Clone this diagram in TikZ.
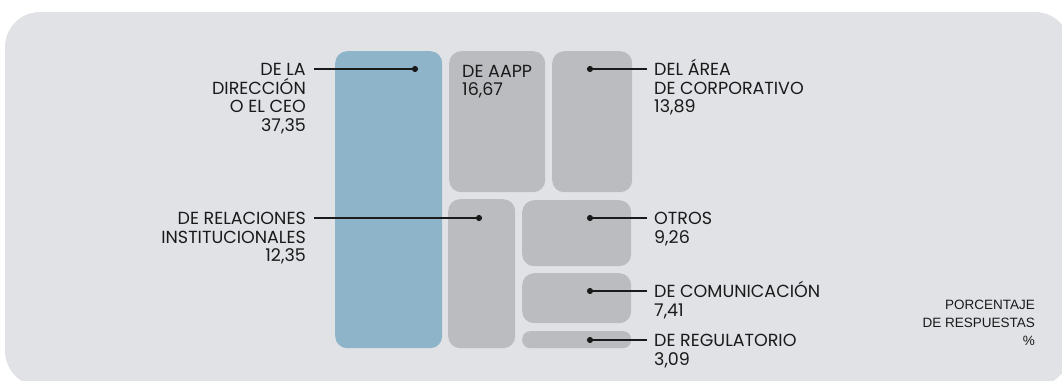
\documentclass[tikz,border=0pt]{standalone}
\usepackage{fontspec}
\setmainfont{Poppins}
\newfontfamily\notefont{Liberation Sans}
\usetikzlibrary{positioning,arrows.meta}
\definecolor{panel}{HTML}{E1E2E6}
\definecolor{tilegray}{HTML}{BBBCC0}
\definecolor{ceoblue}{HTML}{8DB4C9}
\definecolor{ink}{HTML}{1A1A1A}
\tikzset{
  tile/.style={fill=tilegray, rounded corners=12pt, inner sep=0pt, anchor=north west},
  lbl/.style={inner sep=0pt, text=ink, font=\fontsize{17.5}{18.5}\selectfont},
  lead/.style={ink, line width=1.7pt, -{Circle[length=6pt]}, shorten >=-3pt},
}
\begin{document}
\begin{tikzpicture}[x=1pt, y=-1pt]
\useasboundingbox (0,0) rectangle (1062,380);
\fill[panel, rounded corners=35pt] (5,12) rectangle (1070,386);

% tiles
\node[tile, fill=ceoblue, minimum width=107pt, minimum height=297pt] (ceo) at (335,51) {};
\node[tile, minimum width=96pt, minimum height=141pt] (aapp) at (449,51) {};
\node[tile, minimum width=80pt, minimum height=141pt] (corp) at (552,51) {};
\node[tile, minimum width=67pt, minimum height=149pt] (rel) at (448,199) {};
\node[tile, minimum width=109pt, minimum height=66pt] (otros) at (522,200) {};
\node[tile, minimum width=109pt, minimum height=50pt] (com) at (522,273) {};
\node[tile, rounded corners=8pt, minimum width=109pt, minimum height=17pt] (reg) at (522,331) {};

% dots and leader ends
\coordinate (ceoD) at (415,69);
\coordinate (relD) at (479,218);
\coordinate (corpD) at (590,69);
\coordinate (otrosD) at (590,218);
\coordinate (comD) at (590,291);
\coordinate (regD) at (590,340);
\coordinate (ceoE) at (314,69);
\coordinate (relE) at (314,218);
\coordinate (corpE) at (647,69);
\coordinate (otrosE) at (647,218);
\coordinate (comE) at (647,291);
\coordinate (regE) at (647,340);

% labels (base = last line)
\node[lbl, anchor=base east, align=right] (ceoT) at ([shift={(-8,62)}]ceoE) {DE LA\\DIRECCIÓN\\O EL CEO\\37,35};
\node[lbl, anchor=base east, align=right] (relT) at ([shift={(-8,43.5)}]relE) {DE RELACIONES\\INSTITUCIONALES\\12,35};
\node[lbl, anchor=base west, align=left] (aappT) at (462,95.5) {DE AAPP\\16,67};
\node[lbl, anchor=base west, align=left] (corpT) at ([shift={(7,43.5)}]corpE) {DEL ÁREA\\DE CORPORATIVO\\13,89};
\node[lbl, anchor=base west, align=left] (otrosT) at ([shift={(7,25)}]otrosE) {OTROS\\9,26};
\node[lbl, anchor=base west, align=left] (comT) at ([shift={(7,25)}]comE) {DE COMUNICACIÓN\\7,41};
\node[lbl, anchor=base west, align=left] (regT) at ([shift={(7,25)}]regE) {DE REGULATORIO\\3,09};
\node[inner sep=0pt, text=ink, anchor=base east, align=right, font=\notefont\fontsize{13.5}{18.3}\selectfont] (note) at (1035,345.6) {PORCENTAJE\\DE RESPUESTAS\\\%};

% leaders
\draw[lead] (ceoE) -- (ceoD);
\draw[lead] (relE) -- (relD);
\draw[lead] (corpE) -- (corpD);
\draw[lead] (otrosE) -- (otrosD);
\draw[lead] (comE) -- (comD);
\draw[lead] (regE) -- (regD);
\end{tikzpicture}
\end{document}
